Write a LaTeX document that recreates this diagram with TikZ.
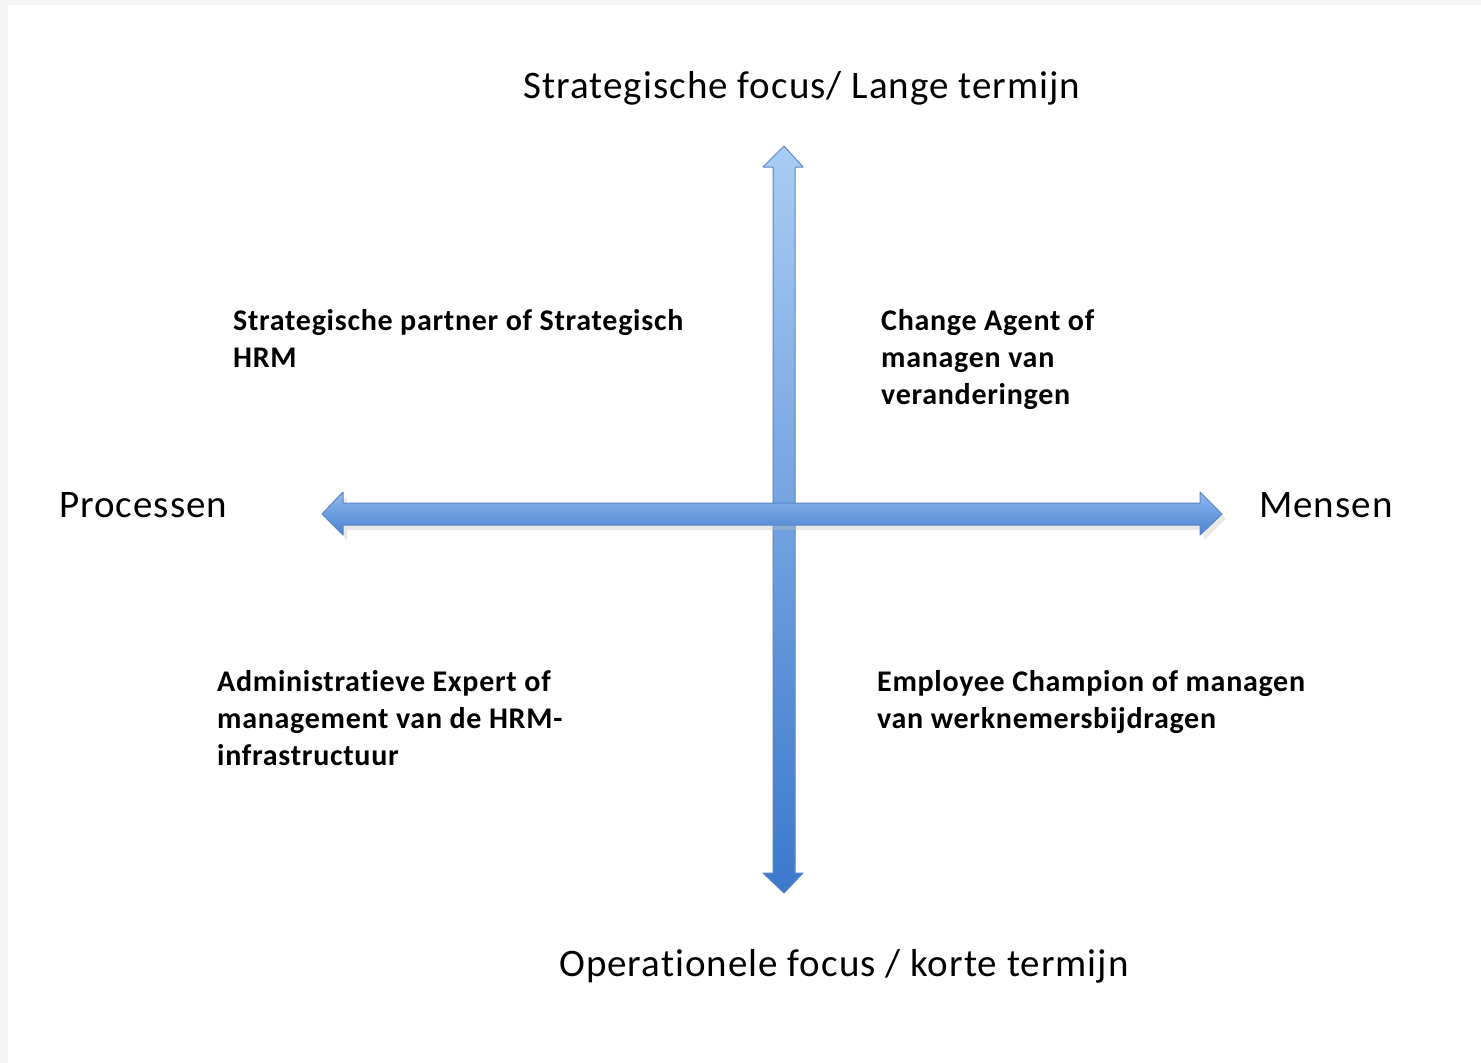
\documentclass[tikz,border=0pt]{standalone}
\usepackage{fontspec}
\setmainfont{Carlito}[Ligatures=NoCommon]
\newfontfamily\axisfont{Carlito}[Ligatures=NoCommon, LetterSpace=2.6]
\newfontfamily\rolefont{Carlito}[Ligatures=NoCommon, LetterSpace=2.4, BoldFont=Carlito Bold]
\begin{document}
\begin{tikzpicture}[x=1pt,y=-1pt,
  axislabel/.style={inner sep=0pt, font=\axisfont\fontsize{39}{47}\selectfont},
  rolelabel/.style={inner sep=0pt, anchor=north west, align=left, font=\rolefont\bfseries\fontsize{30}{37}\selectfont},
  arrowline/.style={draw=arrowedge, line width=1pt, line join=round}]
\definecolor{arrowedge}{HTML}{5A86C6}
\definecolor{vtop}{HTML}{A9CCF4}
\definecolor{vbot}{HTML}{3C78CB}
\definecolor{htop}{HTML}{8FB8EE}
\definecolor{hbot}{HTML}{4A82D2}
% background / frame
\fill[black!4] (0,0) rectangle (1481,1063);
\fill[white] (8,5) rectangle (1481,1063);
\useasboundingbox (0,0) rectangle (1481,1063);
% vertical arrow
\coordinate (vtip) at (784,146);
\coordinate (vbase) at (784,893);
\shade[top color=vtop, bottom color=vbot, arrowline]
  (vtip) -- (803,167) -- (795,167) -- (795,873) -- (803,873) -- (vbase)
  -- (763,873) -- (773,873) -- (773,167) -- (763,167) -- cycle;
% horizontal arrow
\coordinate (hleft) at (322,514);
\coordinate (hright) at (1222,514);
\fill[black!25, opacity=0.35] (326,519) -- (347,497) -- (347,508) -- (1204,508) -- (1204,497) -- (1226,519) -- (1204,540) -- (1204,530) -- (347,530) -- (347,540) -- cycle;
\shade[top color=htop, bottom color=hbot, arrowline]
  (hleft) -- (343,492) -- (343,503) -- (1200,503) -- (1200,492) -- (hright)
  -- (1200,535) -- (1200,525) -- (343,525) -- (343,535) -- cycle;
% axis labels
\node[axislabel, anchor=base] (top) at (802,98) {Strategische focus/ Lange termijn};
\node[axislabel, anchor=base] (bottom) at (844,976) {Operationele focus / korte termijn};
\node[axislabel, anchor=base west] (left) at (59,517) {Processen};
\node[axislabel, anchor=base west] (right) at (1259,517) {Mensen};
% quadrant labels
\node[rolelabel] (q1) at (233,309) {Strategische partner of Strategisch\\HRM};
\node[rolelabel] (q2) at (881,309) {Change Agent of\\managen van\\veranderingen};
\node[rolelabel] (q3) at (217,670) {Administratieve Expert of\\management van de HRM-\\infrastructuur};
\node[rolelabel] (q4) at (877,670) {Employee Champion of managen\\van werknemersbijdragen};
\end{tikzpicture}
\end{document}
